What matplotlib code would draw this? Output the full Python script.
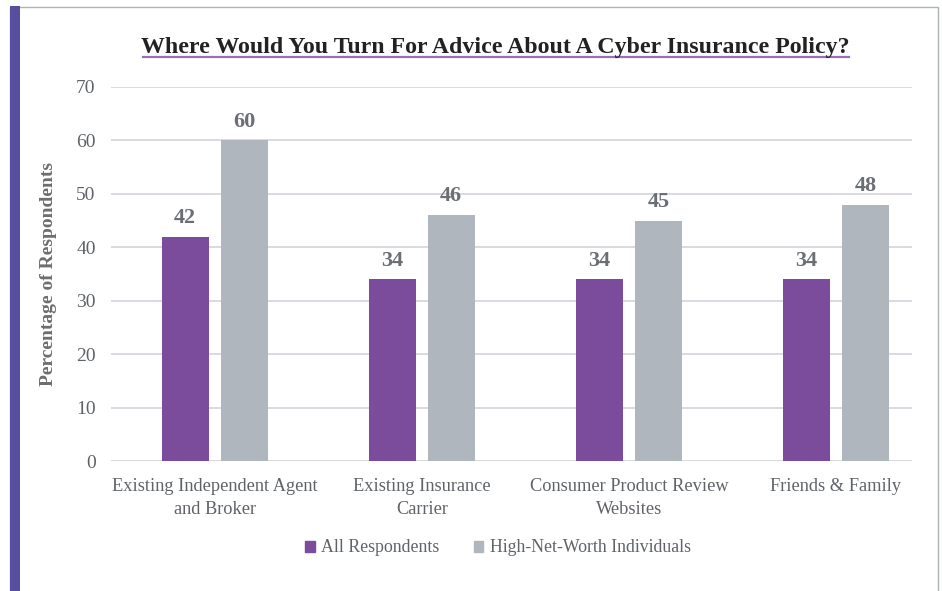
import numpy as np
import matplotlib.pyplot as plt
from matplotlib.patches import Rectangle
from matplotlib.lines import Line2D

categories = ["Existing Independent Agent\nand Broker", "Existing Insurance\nCarrier",
              "Consumer Product Review\nWebsites", "Friends & Family"]
all_respondents = [42, 34, 34, 34]
hnw_individuals = [60, 46, 45, 48]
series_names = ["All Respondents", "High-Net-Worth Individuals"]
yticks = [0, 10, 20, 30, 40, 50, 60, 70]

PURPLE = "#7b4b9c"
GREY = "#b0b6bd"
TEXT = "#5f6368"

plt.rcParams['font.family'] = ['Liberation Serif', 'DejaVu Serif']

fig = plt.figure(figsize=(9.42, 5.91), dpi=100)
W, H = 942, 591

# frame around the chart and the purple band on its left
fig.patches.append(Rectangle((10 / W, -0.01), 928 / W, (591 - 7) / H + 0.01,
                             transform=fig.transFigure, fill=False,
                             edgecolor="#aab5b0", linewidth=1.0))
fig.patches.append(Rectangle((10 / W, -0.01), 10 / W, 1.0,
                             transform=fig.transFigure, facecolor="#574ea0",
                             edgecolor="none"))

ax = fig.add_axes([111 / W, 130 / H, (912 - 111) / W, (461 - 87) / H])

x = np.arange(len(categories))
off = 0.1425
w = 0.227
b1 = ax.bar(x - off, all_respondents, w, color=PURPLE, label=series_names[0], zorder=3)
b2 = ax.bar(x + off, hnw_individuals, w, color=GREY, label=series_names[1], zorder=3)

for bars, vals in ((b1, all_respondents), (b2, hnw_individuals)):
    for r, v in zip(bars, vals):
        ax.annotate(f"{v}", (r.get_x() + r.get_width() / 2, v), xytext=(0, 13.5),
                    textcoords="offset points", ha="center", va="center",
                    fontsize=16, fontweight="bold", color="#6b6f74")

ax.set_xlim(-0.5, 3.367)
ax.set_ylim(0, 70)
ax.set_yticks(yticks)
ax.yaxis.grid(True, color="#d9d9e0", linewidth=1.4, zorder=0)
ax.set_axisbelow(True)
for s in ("top", "right", "left", "bottom"):
    ax.spines[s].set_visible(False)
ax.axhline(0, color="#d9d9e0", linewidth=2, zorder=2)
ax.tick_params(axis="both", length=0, labelcolor=TEXT)
ax.tick_params(axis="y", pad=11, labelsize=14)
ax.tick_params(axis="x", pad=12, labelsize=13.2)
ax.set_xticks(x)
ax.set_xticklabels(categories, linespacing=1.45)
ax.set_ylabel("Percentage of Respondents", fontsize=14, color="#6d6d6d",
              fontweight="bold", labelpad=14)

fig.text(495 / W, 1 - 47 / H, "Where Would You Turn For Advice About A Cyber Insurance Policy?",
         ha="center", va="center", fontsize=17.2, fontweight="bold", color="#222222")
fig.add_artist(Line2D([143 / W, 849 / W], [1 - 57 / H, 1 - 57 / H],
                      transform=fig.transFigure, color="#9b6fb5", linewidth=1.6))

handles = [Rectangle((0, 0), 1, 1, color=PURPLE), Rectangle((0, 0), 1, 1, color=GREY)]
fig.legend(handles, series_names, loc="center", bbox_to_anchor=(498 / W, 1 - 548 / H),
           ncol=2, frameon=False, fontsize=12.8, handlelength=0.55, handleheight=0.55,
           handletextpad=0.35, columnspacing=1.9, labelcolor=TEXT)

fig.savefig("out.png", dpi=100)
